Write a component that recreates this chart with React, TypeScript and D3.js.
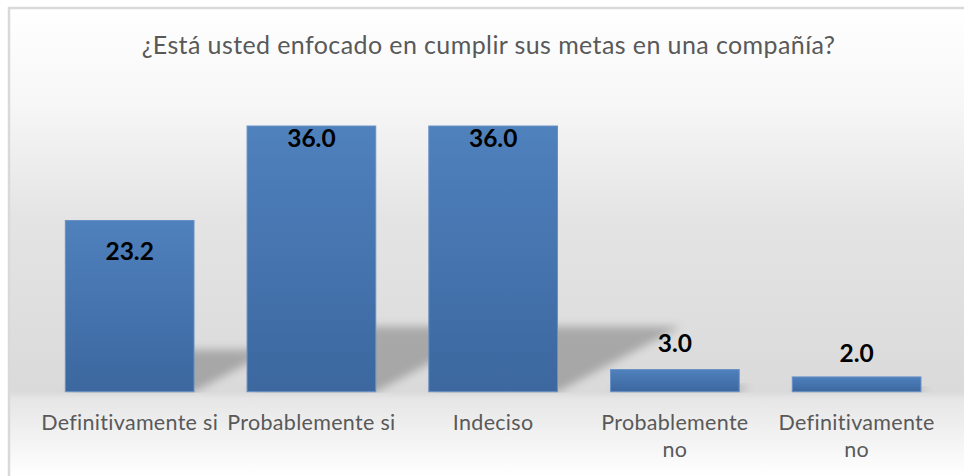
import React from "react";
import * as d3 from "d3";

// ---- data ----
const title = "¿Está usted enfocado en cumplir sus metas en una compañía?";
const categories = [
  "Definitivamente si",
  "Probablemente si",
  "Indeciso",
  "Probablemente\nno",
  "Definitivamente\nno",
];
const values = [23.2, 36.0, 36.0, 3.0, 2.0];
const yDomain = [0, 40];

// ---- styling / layout ----
const W = 964;
const H = 476;
const plotLeft = 38.8;
const plotRight = 947.5;
const plotTop = 96.5;
const plotBottom = 391.7;
// baseline of value label relative to bar top (px)
const labelBaselineOffset = [40, 21, 21, -18, -15];
const FONT = "Lato, 'Open Sans', 'DejaVu Sans', sans-serif";

export default function App() {
  const x = d3
    .scaleBand<string>()
    .domain(categories)
    .range([plotLeft, plotRight])
    .paddingInner(0.292)
    .paddingOuter(0.146);
  const y = d3.scaleLinear().domain(yDomain).range([plotBottom, plotTop]);
  const bw = x.bandwidth();

  return (
    <svg
      width={W}
      height={H}
      style={{ position: "absolute", left: 0, top: 0, display: "block" }}
      fontFamily={FONT}
    >
      <defs>
        <linearGradient id="bg" gradientUnits="userSpaceOnUse" x1="0" y1="8" x2="0" y2="476">
          <stop offset="0" stopColor="#ffffff" />
          <stop offset="0.2" stopColor="#f7f7f7" />
          <stop offset="0.45" stopColor="#e4e4e4" />
          <stop offset="0.82" stopColor="#dadada" />
          <stop offset="0.835" stopColor="#e6e6e6" />
          <stop offset="1" stopColor="#ffffff" />
        </linearGradient>
        <linearGradient id="barGrad" x1="0" y1="0" x2="0" y2="1">
          <stop offset="0" stopColor="#4f81bd" />
          <stop offset="1" stopColor="#3c679f" />
        </linearGradient>
        <filter id="blur" x="-50%" y="-50%" width="200%" height="200%">
          <feGaussianBlur stdDeviation="4" />
        </filter>
        <clipPath id="floorClip">
          <rect x={0} y={0} width={W} height={plotBottom + 1} />
        </clipPath>
      </defs>

      <rect x={9} y={8} width={975} height={490} fill="url(#bg)" stroke="#d9d9d9" strokeWidth={2.5} />

      <text
        x={488.5}
        y={54}
        textAnchor="middle"
        fontSize={25}
        letterSpacing={0.4}
        fill="#595959"
      >
        {title}
      </text>

      {/* shadows */}
      <g clipPath="url(#floorClip)">
        {categories.map((c, i) => {
          const x0 = x(c)!;
          const x1 = x0 + bw;
          const yb = y(0);
          const h = yb - y(values[i]);
          const hs = h * 0.245;
          const d = hs * 1.9;
          const pts = [
            [x0, yb],
            [x1, yb],
            [x1 + d, yb - hs],
            [x0 + d, yb - hs],
          ]
            .map((p) => p.join(","))
            .join(" ");
          return (
            <polygon key={"s" + i} points={pts} fill="#000" fillOpacity={0.24} filter="url(#blur)" />
          );
        })}
      </g>

      {/* bars */}
      {categories.map((c, i) => (
        <rect
          key={"b" + i}
          x={x(c)!}
          y={y(values[i])}
          width={bw}
          height={y(0) - y(values[i])}
          fill="url(#barGrad)"
          stroke="#6890c4"
          strokeWidth={1}
        />
      ))}

      {/* value labels */}
      {categories.map((c, i) => (
        <text
          key={"v" + i}
          x={x(c)! + bw / 2}
          y={y(values[i]) + labelBaselineOffset[i]}
          textAnchor="middle"
          fontSize={24.5}
          fontWeight="bold"
          fill="#000"
        >
          {values[i].toFixed(1)}
        </text>
      ))}

      {/* category labels */}
      {categories.map((c, i) => (
        <text
          key={"c" + i}
          x={x(c)! + bw / 2}
          y={430}
          textAnchor="middle"
          fontSize={21.5}
          letterSpacing={0.3}
          fill="#595959"
        >
          {c.split("\n").map((line, j) => (
            <tspan key={j} x={x(c)! + bw / 2} dy={j === 0 ? 0 : 27}>
              {line}
            </tspan>
          ))}
        </text>
      ))}
    </svg>
  );
}
